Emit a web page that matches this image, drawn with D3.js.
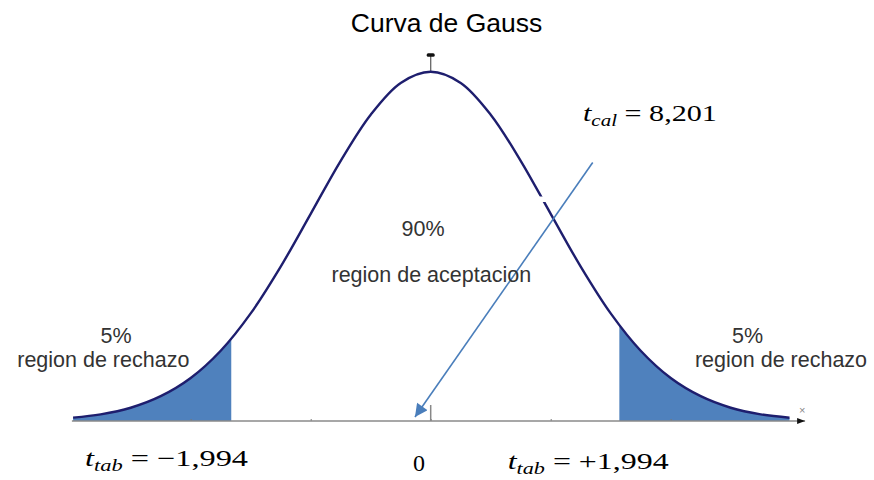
<!DOCTYPE html>
<html>
<head>
<meta charset="utf-8">
<script src="https://cdn.jsdelivr.net/npm/d3@7"></script>
<style>
  html, body { margin: 0; padding: 0; background: #fff; }
  svg { display: block; }
</style>
</head>
<body>
<svg id="chart" width="874" height="480"></svg>
<script>
// curve (x in tick units, height relative to peak)
const curveX = [-2.98, -2.75, -2.5, -2.25, -2, -1.75, -1.5, -1.25, -1, -0.75, -0.5, -0.25, 0,
                0.25, 0.5, 0.75, 1, 1.25, 1.5, 1.75, 2, 2.25, 2.5, 2.75, 2.99];
const curveY = [0.0096, 0.019, 0.038, 0.071, 0.123, 0.201, 0.308, 0.442, 0.593, 0.745, 0.877, 0.968, 1,
                0.968, 0.877, 0.745, 0.593, 0.442, 0.308, 0.201, 0.123, 0.071, 0.038, 0.019, 0.0093];
const cutoffs = [-1.662, 1.572];          // edges of the rejection areas
const tickValues = [-2, -1, 0, 1, 2];
const axisExtent = [-2.99, 3.12];
const tcalArrow = [{x: 1.35, y: 0.74}, {x: -0.131, y: 0.0115}];

const titleText = 'Curva de Gauss';
const acceptLabels = ['90%', 'region de aceptacion'];
const rejectLabels = ['5%', 'region de rechazo'];
const mathLabels = [
	{sub: 'tab', rest: ' = \u22121,994'},
	{sub: 'tab', rest: ' = +1,994'},
	{sub: 'cal', rest: ' = 8,201'}
];

var svg = d3.select('#chart');
var x = d3.scaleLinear().domain([0, 1]).range([430.7, 550.7]);
var y = d3.scaleLinear().domain([0, 1]).range([421, 71.7]);

var pts = curveX.map((d, i) => ({x: d, y: curveY[i]}));

//clip paths for the two tails
var defs = svg.append('defs');
defs.append('clipPath').attr('id', 'clip_l')
	.append('rect')
	.attr('x', 0).attr('y', 0)
	.attr('width', x(cutoffs[0])).attr('height', 480);
defs.append('clipPath').attr('id', 'clip_r')
	.append('rect')
	.attr('x', x(cutoffs[1])).attr('y', 0)
	.attr('width', 874 - x(cutoffs[1])).attr('height', 480);
defs.append('marker').attr('id', 'arrow_blue')
	.attr('viewBox', '0 0 10 10')
	.attr('refX', 10).attr('refY', 5)
	.attr('markerWidth', 9).attr('markerHeight', 8)
	.attr('markerUnits', 'strokeWidth')
	.attr('orient', 'auto')
	.append('path').attr('d', 'M0,0 L10,5 L0,10 z').attr('fill', '#4a7ebb');

var area = d3.area()
	.x(d => x(d.x))
	.y0(y(0))
	.y1(d => y(d.y))
	.curve(d3.curveCatmullRom.alpha(0.5));
var line = d3.line()
	.x(d => x(d.x))
	.y(d => y(d.y))
	.curve(d3.curveCatmullRom.alpha(0.5));

['clip_l', 'clip_r'].forEach(id => {
	svg.append('path')
		.attr('d', area(pts))
		.attr('clip-path', 'url(#' + id + ')')
		.style('fill', '#4f81bd');
});

//x axis, tiny ticks
var axis = d3.axisTop(x).tickValues(tickValues).tickSize(2).tickFormat('');
var g_axis = svg.append('g').attr('transform', 'translate(0,' + y(0) + ')').call(axis);
g_axis.select('.domain').remove();
g_axis.selectAll('.tick line').attr('stroke', '#777');
svg.append('line')
	.attr('x1', x(axisExtent[0])).attr('x2', x(axisExtent[1]))
	.attr('y1', y(0)).attr('y2', y(0))
	.style('stroke', '#8a8a8a').style('stroke-width', 1.6);
svg.append('path')
	.attr('d', 'M' + (x(axisExtent[1]) - 8) + ',' + (y(0) - 3) + 'l8,3l-8,3z')
	.style('fill', '#111');
svg.append('text')
	.attr('x', x(axisExtent[1]) - 3).attr('y', y(0) - 7)
	.attr('text-anchor', 'middle')
	.style('font', '11px "Liberation Sans", Arial, sans-serif')
	.style('fill', '#888')
	.text('\u00d7');

//center tick and peak marker
svg.append('line')
	.attr('x1', x(0)).attr('x2', x(0))
	.attr('y1', y(0)).attr('y2', y(0) - 16)
	.style('stroke', '#888').style('stroke-width', 1.5);
svg.append('line')
	.attr('x1', x(0)).attr('x2', x(0))
	.attr('y1', y(1)).attr('y2', y(1) - 17)
	.style('stroke', '#666').style('stroke-width', 1.3);
svg.append('rect')
	.attr('x', x(0) - 4).attr('y', y(1) - 18.5)
	.attr('width', 8).attr('height', 3.5).attr('rx', 1.5)
	.style('fill', '#111');

//curve
svg.append('path')
	.attr('d', line(pts))
	.style('fill', 'none')
	.style('stroke', '#1e1e6e')
	.style('stroke-width', 2.4);

//small white gap on the curve
svg.append('rect')
	.attr('x', 539).attr('y', 196.5)
	.attr('width', 9).attr('height', 5.5)
	.style('fill', '#fff');

//t_cal arrow
svg.append('line')
	.attr('x1', x(tcalArrow[0].x)).attr('y1', y(tcalArrow[0].y))
	.attr('x2', x(tcalArrow[1].x)).attr('y2', y(tcalArrow[1].y))
	.attr('marker-end', 'url(#arrow_blue)')
	.style('stroke', '#4a7ebb').style('stroke-width', 1.6);

//texts
var sans = '"Liberation Sans", Arial, sans-serif';
svg.append('text')
	.attr('x', 446.5).attr('y', 31.5)
	.attr('text-anchor', 'middle')
	.style('font-family', sans).style('font-size', '26.5px').style('fill', '#000')
	.text(titleText);

function sansText(tx, ty, str, anchor) {
	svg.append('text')
		.attr('x', tx).attr('y', ty)
		.attr('text-anchor', anchor || 'middle')
		.style('font-family', sans).style('font-size', '21.5px').style('fill', '#333')
		.text(str);
}
sansText(423, 236, acceptLabels[0]);
sansText(431.3, 282, acceptLabels[1]);
sansText(116, 343, rejectLabels[0]);
sansText(103.3, 367, rejectLabels[1]);
sansText(747.5, 342.5, rejectLabels[0]);
sansText(781, 367, rejectLabels[1]);

function mathText(tx, ty, lab, width) {
	var t = svg.append('text')
		.attr('x', tx).attr('y', ty)
		.style('font-family', '"Liberation Serif", "DejaVu Serif", serif')
		.style('font-size', '23px').style('fill', '#000');
	t.append('tspan').style('font-style', 'italic').text('t');
	t.append('tspan').style('font-style', 'italic').style('font-size', '16px')
		.attr('dy', 5).text(lab.sub);
	t.append('tspan').attr('dy', -5).text(lab.rest);
	//stretch to the width seen in the picture
	var w = t.node().getComputedTextLength();
	t.attr('transform', 'translate(' + tx + ',0) scale(' + (width / w) + ',1) translate(' + (-tx) + ',0)');
}
mathText(85, 466.5, mathLabels[0], 163);
mathText(507.7, 469.5, mathLabels[1], 161);
mathText(583, 121.5, mathLabels[2], 134);

svg.append('text')
	.attr('x', 419).attr('y', 471)
	.attr('text-anchor', 'middle')
	.style('font-family', '"Liberation Serif", "DejaVu Serif", serif')
	.style('font-size', '24px').style('fill', '#000')
	.text('0');
</script>
</body>
</html>
